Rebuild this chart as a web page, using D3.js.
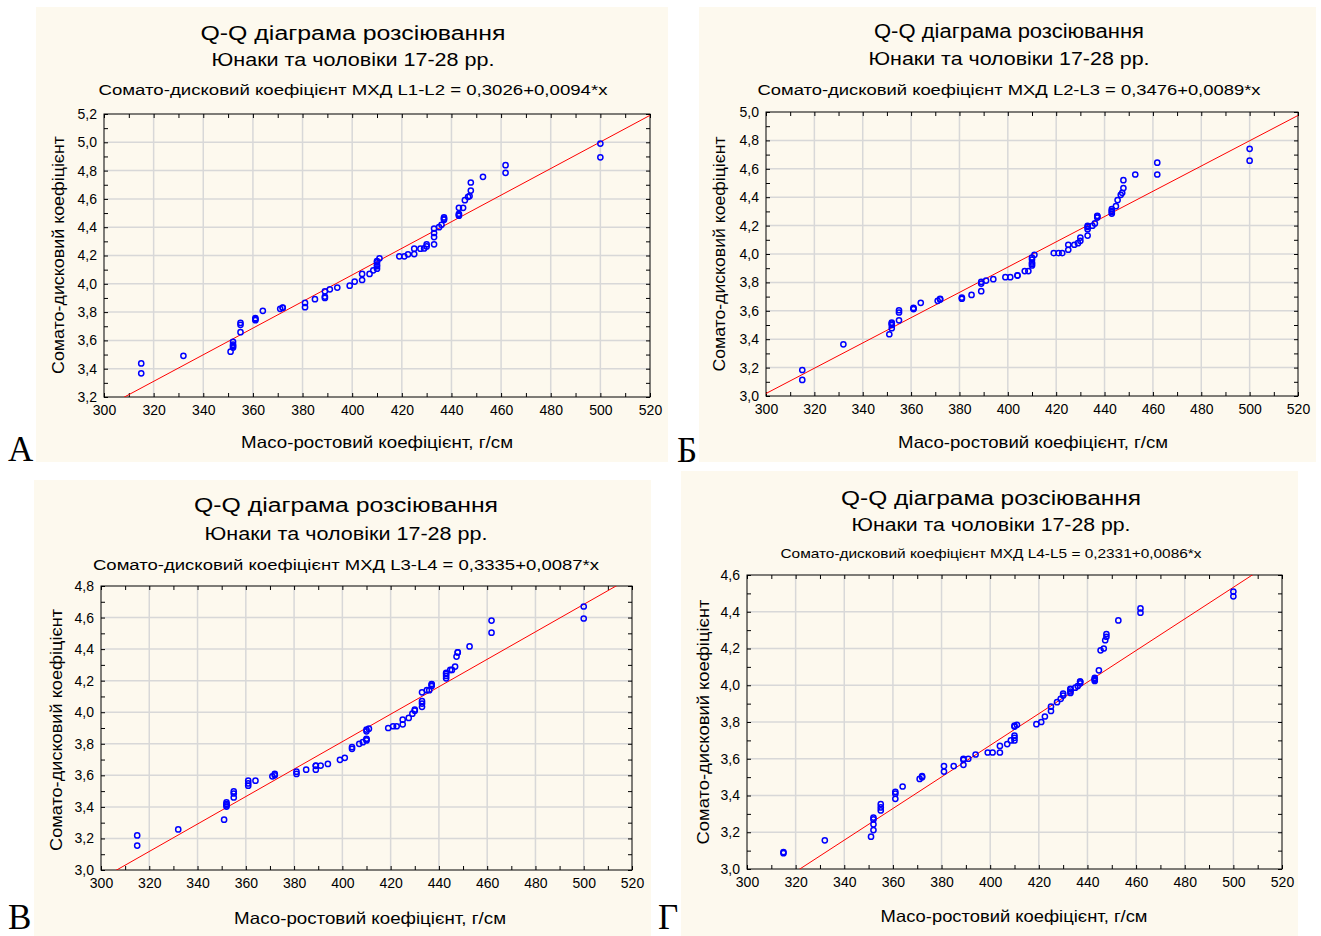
<!DOCTYPE html>
<html>
<head>
<meta charset="utf-8">
<script src="https://cdn.jsdelivr.net/npm/d3@7"></script>
<style>
    body { margin: 0; background: #fff; }
    svg { display: block; font-family: "Liberation Sans", Arial, sans-serif; }
</style>
</head>
<body>
<svg id="chart" width="1321" height="936"></svg>
<script>
// x: масо-ростовий коефіцієнт (sorted sample, shared by all four plots)
const masoRost = [315, 315, 332, 351, 352, 352, 352, 352, 355, 355, 355, 361, 361, 361, 364, 371, 372, 372, 381, 381,
    385, 389, 389, 389, 391, 394, 399, 401, 404, 404, 407, 408.5, 410, 410, 410, 410, 410, 411, 419, 421,
    422.5, 425, 425, 427.5, 429, 430, 430, 433, 433, 433, 433, 435, 436, 437, 437, 437, 443, 443, 443, 443,
    444.7, 445.4, 446.7, 447.3, 447.8, 447.8, 452.7, 461.8, 461.8, 500, 500];

// y: сомато-дисковий коефіцієнт for each segment
const l1l2 = [3.367, 3.437, 3.491, 3.52, 3.55, 3.56, 3.57, 3.59, 3.658, 3.71, 3.724, 3.743, 3.75, 3.757, 3.809, 3.823, 3.83, 3.832, 3.835, 3.865,
    3.891, 3.90, 3.91, 3.947, 3.961, 3.973, 3.987, 4.016, 4.027, 4.07, 4.07, 4.095, 4.107, 4.124, 4.135, 4.152, 4.161, 4.18, 4.194, 4.194,
    4.208, 4.21, 4.248, 4.248, 4.25, 4.264, 4.279, 4.279, 4.33, 4.359, 4.39, 4.40, 4.417, 4.453, 4.46, 4.469, 4.481, 4.488, 4.495, 4.537,
    4.537, 4.591, 4.615, 4.62, 4.659, 4.716, 4.756, 4.784, 4.838, 4.894, 4.991];
const l2l3 = [3.113, 3.183, 3.364, 3.435, 3.477, 3.50, 3.51, 3.517, 3.533, 3.588, 3.604, 3.612, 3.616, 3.62, 3.656, 3.67, 3.68, 3.684, 3.685, 3.693,
    3.712, 3.738, 3.792, 3.804, 3.813, 3.823, 3.837, 3.837, 3.848, 3.85, 3.88, 3.88, 3.919, 3.93, 3.94, 3.961, 3.975, 3.994, 4.006, 4.006,
    4.006, 4.03, 4.065, 4.065, 4.076, 4.093, 4.116, 4.13, 4.175, 4.19, 4.199, 4.199, 4.215, 4.257, 4.265, 4.269, 4.285, 4.295, 4.304, 4.316,
    4.337, 4.38, 4.417, 4.431, 4.464, 4.52, 4.56, 4.56, 4.643, 4.657, 4.741];
const l3l4 = [3.155, 3.219, 3.257, 3.319, 3.402, 3.41, 3.417, 3.428, 3.46, 3.485, 3.498, 3.534, 3.549, 3.566, 3.566, 3.594, 3.60, 3.609, 3.609, 3.623,
    3.636, 3.636, 3.66, 3.662, 3.662, 3.672, 3.698, 3.711, 3.768, 3.779, 3.80, 3.81, 3.821, 3.828, 3.832, 3.879, 3.89, 3.896, 3.90, 3.911,
    3.911, 3.923, 3.953, 3.964, 3.991, 4.01, 4.017, 4.034, 4.055, 4.07, 4.126, 4.14, 4.14, 4.166, 4.175, 4.179, 4.215, 4.23, 4.243, 4.25,
    4.268, 4.268, 4.289, 4.353, 4.379, 4.38, 4.417, 4.504, 4.581, 4.594, 4.67];
const l4l5 = [3.086, 3.092, 3.156, 3.176, 3.212, 3.243, 3.27, 3.28, 3.319, 3.335, 3.353, 3.382, 3.41, 3.42, 3.449, 3.49, 3.50, 3.505, 3.53, 3.56,
    3.56, 3.567, 3.594, 3.60, 3.60, 3.623, 3.634, 3.634, 3.634, 3.67, 3.68, 3.70, 3.70, 3.714, 3.726, 3.775, 3.78, 3.785, 3.788, 3.80,
    3.83, 3.86, 3.884, 3.908, 3.926, 3.944, 3.955, 3.958, 3.966, 3.978, 3.98, 3.987, 3.996, 4.011, 4.02, 4.02, 4.023, 4.03, 4.034, 4.04,
    4.081, 4.19, 4.20, 4.245, 4.264, 4.279, 4.353, 4.395, 4.418, 4.484, 4.51];

const segments = ['L1-L2', 'L2-L3', 'L3-L4', 'L4-L5'];
const intercepts = [0.3026, 0.3476, 0.3335, 0.2331];
const slopes = [0.0094, 0.0089, 0.0087, 0.0086];
const panelLetters = ['А', 'Б', 'В', 'Г'];
const yDomains = [[3.2, 5.2], [3.0, 5.0], [3.0, 4.8], [3.0, 4.6]];
const xDomain = [300, 520];
const title = 'Q-Q діаграма розсіювання';
const subtitle = 'Юнаки та чоловіки 17-28 рр.';
const xTitle = 'Масо-ростовий коефіцієнт, г/см';
const yTitle = 'Сомато-дисковий коефіцієнт';
const ySeries = [l1l2, l2l3, l3l4, l4l5];

// layout of the four panels on the page
// ty: baselines of title/subtitle/equation, tw: their widths; xt: [centre, baseline, width]; yt: [baseline x, centre y, length]
const layout = [
    { bg: [36, 7, 632, 455], plot: { l: 104, r: 650, t: 114, b: 397 }, cx: 353, ty: [40, 66, 95], tw: [305, 283, 509], eqSize: 15.5,
      xt: [377, 448, 272], yt: [64, 255, 238], letter: [8, 461] },
    { bg: [699, 7, 617, 455], plot: { l: 766, r: 1298, t: 112, b: 396 }, cx: 1009, ty: [38, 65, 95], tw: [270, 281, 503], eqSize: 15.5,
      xt: [1033, 448, 270], yt: [725, 254, 235], letter: [677, 462] },
    { bg: [34, 480, 617, 456], plot: { l: 101, r: 632, t: 586, b: 870 }, cx: 346, ty: [512, 540, 570], tw: [304, 283, 506], eqSize: 15.5,
      xt: [370, 924, 272], yt: [62, 730, 242], letter: [8, 929] },
    { bg: [681, 471, 617, 465], plot: { l: 747, r: 1282, t: 575, b: 869 }, cx: 991, ty: [505, 531, 558], tw: [300, 279, 421], eqSize: 13.5,
      xt: [1014, 922, 267], yt: [709, 722, 245], letter: [658, 929] }
];

const svg = d3.select('#chart');
const comma = v => d3.format('.1f')(v).replace('.', ',');

layout.forEach((p, i) => {
    const g = svg.append('g');
    const yDom = yDomains[i];

    g.append('rect')
        .attr('x', p.bg[0]).attr('y', p.bg[1])
        .attr('width', p.bg[2]).attr('height', p.bg[3])
        .attr('fill', '#fdf9ee');

    const x = d3.scaleLinear().domain(xDomain).range([p.plot.l, p.plot.r]);
    const y = d3.scaleLinear().domain(yDom).range([p.plot.b, p.plot.t]);
    const w = p.plot.r - p.plot.l, h = p.plot.b - p.plot.t;

    const xMajor = d3.range(xDomain[0], xDomain[1] + 1, 20);
    const xMinor = d3.range(xDomain[0], xDomain[1] + 1, 10);
    const yMajor = d3.range(0, Math.round((yDom[1] - yDom[0]) / 0.2) + 1).map(k => +(yDom[0] + k * 0.2).toFixed(1));
    const yMinor = d3.range(0, Math.round((yDom[1] - yDom[0]) / 0.1) + 1).map(k => +(yDom[0] + k * 0.1).toFixed(2));

    // grid
    g.append('g')
        .selectAll('line').data(xMajor.slice(1, -1)).join('line')
        .attr('x1', d => x(d)).attr('x2', d => x(d))
        .attr('y1', p.plot.t).attr('y2', p.plot.b)
        .attr('stroke', '#d8d8d8').attr('stroke-width', 1.5);
    g.append('g')
        .selectAll('line').data(yMajor.slice(1, -1)).join('line')
        .attr('x1', p.plot.l).attr('x2', p.plot.r)
        .attr('y1', d => y(d)).attr('y2', d => y(d))
        .attr('stroke', '#d8d8d8').attr('stroke-width', 1.5);

    // inward ticks on all four sides
    const tickAxis = (axis, tx, ty) => {
        const a = g.append('g').attr('transform', `translate(${tx},${ty})`).call(axis);
        a.selectAll('text').remove();
        a.select('.domain').remove();
        a.selectAll('line').attr('stroke', '#000');
    };
    tickAxis(d3.axisBottom(x).tickValues(xMinor).tickSize(-4), 0, p.plot.b);
    tickAxis(d3.axisTop(x).tickValues(xMinor).tickSize(-4), 0, p.plot.t);
    tickAxis(d3.axisLeft(y).tickValues(yMinor).tickSize(-4), p.plot.l, 0);
    tickAxis(d3.axisRight(y).tickValues(yMinor).tickSize(-4), p.plot.r, 0);

    g.append('rect')
        .attr('x', p.plot.l).attr('y', p.plot.t)
        .attr('width', w).attr('height', h)
        .attr('fill', 'none').attr('stroke', '#000').attr('stroke-width', 1);

    // tick labels
    const xl = g.append('g').attr('transform', `translate(0,${p.plot.b})`)
        .call(d3.axisBottom(x).tickValues(xMajor).tickSize(0).tickPadding(8));
    xl.select('.domain').remove();
    xl.selectAll('text').attr('font-size', 14).attr('fill', '#000').attr('font-family', '"Liberation Sans", Arial, sans-serif');
    const yl = g.append('g').attr('transform', `translate(${p.plot.l},0)`)
        .call(d3.axisLeft(y).tickValues(yMajor).tickFormat(comma).tickSize(0).tickPadding(7));
    yl.select('.domain').remove();
    yl.selectAll('text').attr('font-size', 14).attr('fill', '#000').attr('font-family', '"Liberation Sans", Arial, sans-serif');

    // fitted line, clipped to the plot
    const clipId = 'clip' + i;
    g.append('clipPath').attr('id', clipId).append('rect')
        .attr('x', p.plot.l).attr('y', p.plot.t).attr('width', w).attr('height', h);
    const fit = v => intercepts[i] + slopes[i] * v;
    g.append('line')
        .attr('clip-path', `url(#${clipId})`)
        .attr('x1', x(xDomain[0])).attr('y1', y(fit(xDomain[0])))
        .attr('x2', x(xDomain[1])).attr('y2', y(fit(xDomain[1])))
        .attr('stroke', '#ff0000').attr('stroke-width', 1);

    // points
    g.append('g')
        .selectAll('circle')
        .data(masoRost.map((v, k) => [v, ySeries[i][k]]))
        .join('circle')
        .attr('cx', d => x(d[0])).attr('cy', d => y(d[1]))
        .attr('r', 2.6)
        .attr('fill', 'none').attr('stroke', '#0000ff').attr('stroke-width', 1.5);

    // titles (stretched to the reference widths)
    const stretched = (tx, ty, size, len, str) => g.append('text')
        .attr('x', tx).attr('y', ty)
        .attr('text-anchor', 'middle').attr('font-size', size)
        .attr('textLength', len).attr('lengthAdjust', 'spacingAndGlyphs')
        .text(str);
    stretched(p.cx, p.ty[0], 20, p.tw[0], title);
    stretched(p.cx, p.ty[1], 17.5, p.tw[1], subtitle);
    stretched(p.cx, p.ty[2], p.eqSize, p.tw[2],
        `Сомато-дисковий коефіцієнт МХД ${segments[i]} = ${String(intercepts[i]).replace('.', ',')}+${String(slopes[i]).replace('.', ',')}*x`);
    stretched(p.xt[0], p.xt[1], 16.5, p.xt[2], xTitle);

    g.append('text')
        .attr('transform', `translate(${p.yt[0]},${p.yt[1]}) rotate(-90)`)
        .attr('text-anchor', 'middle').attr('font-size', 17)
        .attr('textLength', p.yt[2]).attr('lengthAdjust', 'spacingAndGlyphs')
        .text(yTitle);

    svg.append('text').attr('x', p.letter[0]).attr('y', p.letter[1])
        .attr('font-family', '"Liberation Serif", "Times New Roman", serif')
        .attr('font-size', 35).text(panelLetters[i]);
});
</script>
</body>
</html>
